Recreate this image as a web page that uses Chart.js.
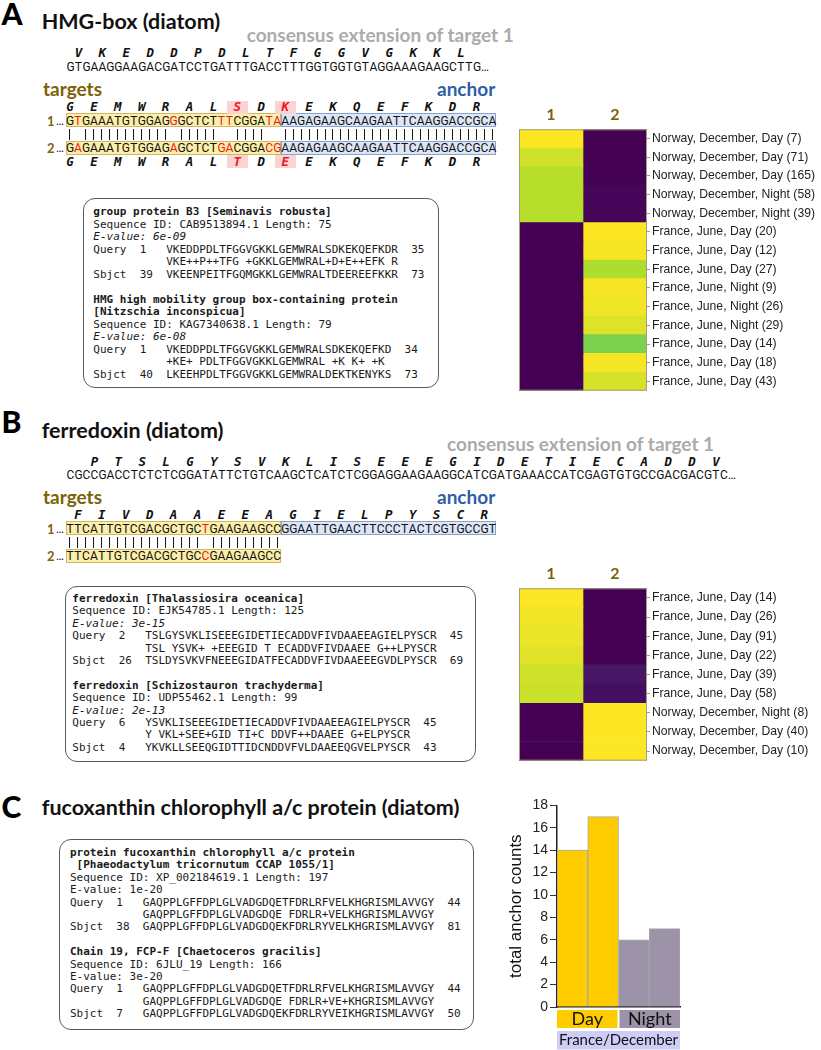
<!DOCTYPE html>
<html><head><meta charset="utf-8">
<script src="https://cdn.jsdelivr.net/npm/chart.js@4.4.1/dist/chart.umd.min.js"></script>
<style>
html,body{margin:0;padding:0;background:#fff;}
#page{position:relative;width:821px;height:1050px;overflow:hidden;background:#fff;}
.t{position:absolute;white-space:pre;line-height:1;}
.panel{font-family:Lato;font-weight:900;font-size:30px;color:#000;}
.title{font-family:Lato;font-weight:700;font-size:21.5px;color:#111;}
.cons{font-family:Lato;font-weight:700;font-size:19px;color:#ababab;}
.tgt{font-family:Lato;font-weight:700;font-size:19px;color:#7d6208;}
.anc{font-family:Lato;font-weight:700;font-size:19px;color:#2f5da6;}
.num{font-family:Lato;font-weight:700;font-size:13px;color:#7d6208;}
.row{position:absolute;height:14px;line-height:14px;white-space:nowrap;font-family:Roboto;font-size:12px;color:#111;}
.row span{display:inline-block;width:7.97px;text-align:center;}
.row.aa{font-family:'DejaVu Sans Mono';font-weight:bold;font-style:italic;font-size:12.5px;}
.bar{position:absolute;width:1px;height:11px;background:#1a1a1a;}
.box{position:absolute;border:1.5px solid #5a5a5a;border-radius:12px;box-sizing:border-box;}
.blast{position:absolute;font-family:'DejaVu Sans Mono';font-size:11px;white-space:pre;color:#1a1a1a;}
.hl{position:absolute;background:#fbd3d3;}
.tbox{position:absolute;background:#fcefa9;border:1px solid #cdb86a;box-sizing:border-box;}
.abox{position:absolute;background:#dce6f6;border:1px solid #86a3cf;box-sizing:border-box;}
canvas{position:absolute;}
</style>
</head>
<body>
<div id="page">
<canvas id="heatA" width="321" height="300" style="left:500px;top:100px"></canvas>
<canvas id="heatB" width="321" height="210" style="left:500px;top:560px"></canvas>
<canvas id="barC" width="185" height="255" style="left:500px;top:795px"></canvas>
</div>
<script>
// ---------------- data ----------------
const heatCols = ['1', '2'];
const heatRowsA = ['Norway, December, Day (7)','Norway, December, Day (71)','Norway, December, Day (165)','Norway, December, Night (58)','Norway, December, Night (39)','France, June, Day (20)','France, June, Day (12)','France, June, Day (27)','France, June, Night (9)','France, June, Night (26)','France, June, Night (29)','France, June, Day (14)','France, June, Day (18)','France, June, Day (43)'];
const heatA_target1 = [1.00, 0.93, 0.89, 0.89, 0.89, 0, 0, 0, 0, 0, 0, 0, 0, 0];
const heatA_target2 = [0, 0, 0, 0.015, 0.015, 1.00, 0.99, 0.88, 0.99, 0.98, 0.95, 0.80, 0.99, 0.94];
const heatRowsB = ['France, June, Day (14)','France, June, Day (26)','France, June, Day (91)','France, June, Day (22)','France, June, Day (39)','France, June, Day (58)','Norway, December, Night (8)','Norway, December, Day (40)','Norway, December, Day (10)'];
const heatB_target1 = [1.00, 0.98, 0.97, 0.955, 0.93, 0.92, 0, 0, 0];
const heatB_target2 = [0, 0, 0, 0, 0.06, 0.04, 1.00, 1.00, 1.00];
const barSamples = ['Day a', 'Day b', 'Night a', 'Night b'];
const barCounts = [14, 17, 6, 7];
const barPeriod = ['Day', 'Day', 'Night', 'Night'];
const barSite = 'France/December';
const barYMax = 18, barYStep = 2;

// sequences (text content)
const seqA_top = 'GTGAAGGAAGACGATCCTGATTTGACCTTTGGTGGTGTAGGAAAGAAGCTTG';
const aaA_top = 'VKEDDPDLTFGGVGKKL';
const seqA_t1 = 'GTGAAATGTGGAGGGCTCTTTCGGATA', seqA_t2 = 'GAGAAATGTGGAGAGCTCTGACGGACG';
const seqA_anchor = 'AAGAGAAGCAAGAATTCAAGGACCGCA';
const aaA_1 = 'GEMWRALSDKEKQEFKDR', aaA_2 = 'GEMWRALTDEEKQEFKDR';
const seqB_top = 'CGCCGACCTCTCTCGGATATTCTGTCAAGCTCATCTCGGAGGAAGAAGGCATCGATGAAACCATCGAGTGTGCCGACGACGTC';
const aaB_top = 'PTSLGYSVKLISEEEGIDETIECADDV';
const seqB_t1 = 'TTCATTGTCGACGCTGCTGAAGAAGCC', seqB_t2 = 'TTCATTGTCGACGCTGCCGAAGAAGCC';
const seqB_anchor = 'GGAATTGAACTTCCCTACTCGTGCCGT';
const aaB_1 = 'FIVDAAEEAGIELPYSCR';

// ---------------- text layout ----------------
const page = document.getElementById('page');
const W = 7.97;
function txt(cls, x, y, s) { const d = document.createElement('div'); d.className = 't ' + cls; d.style.left = x + 'px'; d.style.top = y + 'px'; d.textContent = s; page.appendChild(d); return d; }
function rect(cls, x, y, w, h) { const d = document.createElement('div'); d.className = cls; Object.assign(d.style, {left: x + 'px', top: y + 'px', width: w + 'px', height: h + 'px'}); page.appendChild(d); return d; }
function cells(x0, yc, str, extra, red) {
  const d = document.createElement('div'); d.className = 'row' + (extra ? ' ' + extra : '');
  d.style.left = x0 + 'px'; d.style.top = (yc - 7) + 'px';
  for (let i = 0; i < str.length; i++) {
    const s = document.createElement('span'); s.textContent = str[i] === ' ' ? '\u00a0' : str[i];
    if (red && red.includes(i)) s.style.color = '#f0141e';
    d.appendChild(s);
  }
  page.appendChild(d);
}
function aaRow(x0, yc, aa, off, redK) {
  const n = aa.length * 3 + off; const arr = new Array(n).fill(' ');
  const red = [];
  for (let k = 0; k < aa.length; k++) { arr[3 * k + off] = aa[k]; if (redK && redK.includes(k)) red.push(3 * k + off); }
  if (redK) redK.forEach(k => rect('hl', x0 + (3 * k + off - 1) * W + 1.5, yc - 6.5, 3 * W - 3, 13));
  cells(x0, yc, arr.join(''), 'aa', red);
}
function barsRow(x0, yc, a, b) {
  for (let i = 0; i < Math.max(a.length, b.length); i++)
    if (a[i] && a[i] === b[i]) rect('bar', Math.round(x0 + (i + 0.5) * W - 0.5), Math.round(yc - 5.5), 1, 11);
}
function redIdx(a, b) { const r = []; for (let i = 0; i < Math.min(a.length, b.length); i++) if (a[i] !== b[i]) r.push(i); return r; }

// ---- Panel A ----
txt('panel', 1.5, -1.6, 'A');
txt('title', 41.7, 11.4, 'HMG-box (diatom)');
txt('cons', 246.7, 24.9, 'consensus extension of target 1');
aaRow(66.5, 53.3, aaA_top, 1);
cells(66.5, 66.7, seqA_top + '\u2026');
txt('tgt', 43, 78.6, 'targets');
txt('anc', 437, 78.6, 'anchor');
const x0 = 66;
rect('tbox', x0, 113.3, 27 * W, 14); rect('abox', x0 + 27 * W, 113.3, 27 * W, 14);
rect('tbox', x0, 140.7, 27 * W, 14); rect('abox', x0 + 27 * W, 140.7, 27 * W, 14);
aaRow(x0, 107.3, aaA_1, 0, [7, 9]);
const rA = redIdx(seqA_t1, seqA_t2);
cells(x0, 120.5, seqA_t1 + seqA_anchor, '', rA);
barsRow(x0, 134.7, seqA_t1 + seqA_anchor, seqA_t2 + seqA_anchor);
cells(x0, 147.8, seqA_t2 + seqA_anchor, '', rA);
aaRow(x0, 161.5, aaA_2, 0, [7, 9]);
txt('num', 47, 114.5, '1'); txt('num', 47, 141.5, '2');
cells(56, 120.5, '\u2026'); cells(56, 147.8, '\u2026');

// ---- Panel B ----
const dy = 408;
txt('panel', 1.5, -1.6 + dy, 'B');
txt('title', 41.7, 12 + dy, 'ferredoxin (diatom)');
txt('cons', 447, 25.5 + dy, 'consensus extension of target 1');
aaRow(66.5, 53.8 + dy, aaB_top, 3);
cells(66.5, 67 + dy, seqB_top + '\u2026');
txt('tgt', 43, 79 + dy, 'targets');
txt('anc', 437, 79 + dy, 'anchor');
rect('tbox', x0, 113.3 + dy, 27 * W, 14); rect('abox', x0 + 27 * W, 113.3 + dy, 27 * W, 14);
rect('tbox', x0, 140.7 + dy, 27 * W, 14);
aaRow(x0, 107.3 + dy, aaB_1, 1);
const rB = redIdx(seqB_t1, seqB_t2);
cells(x0, 120.5 + dy, seqB_t1 + seqB_anchor, '', rB);
barsRow(x0, 134.7 + dy, seqB_t1, seqB_t2);
cells(x0, 147.8 + dy, seqB_t2, '', rB);
txt('num', 47, 114.5 + dy, '1'); txt('num', 47, 141.5 + dy, '2');
cells(56, 120.5 + dy, '\u2026'); cells(56, 147.8 + dy, '\u2026');

// ---- Panel C ----
txt('panel', 1.5, 791, 'C');
txt('title', 41.7, 797, 'fucoxanthin chlorophyll a/c protein (diatom)');

// ---- BLAST boxes ----
function blast(bx, by, bw, bh, tx, ty, lh, lines) {
  rect('box', bx, by, bw, bh);
  const p = document.createElement('div'); p.className = 'blast'; p.style.left = tx + 'px'; p.style.top = (ty - lh / 2) + 'px';
  lines.forEach(([s, st]) => { const d = document.createElement('div'); d.style.height = lh + 'px'; d.style.lineHeight = lh + 'px'; d.textContent = s || '\u00a0'; if (st === 'b') d.style.fontWeight = 'bold'; if (st === 'i') d.style.fontStyle = 'italic'; p.appendChild(d); });
  page.appendChild(p);
}
blast(83, 198, 356, 190, 93.3, 212.5, 12.5, [
  ['group protein B3 [Seminavis robusta]', 'b'],
  ['Sequence ID: CAB9513894.1 Length: 75'],
  ['E-value: 6e-09', 'i'],
  ['Query  1   VKEDDPDLTFGGVGKKLGEMWRALSDKEKQEFKDR  35'],
  ['           VKE++P++TFG +GKKLGEMWRAL+D+E++EFK R'],
  ['Sbjct  39  VKEENPEITFGQMGKKLGEMWRALTDEEREEFKKR  73'],
  [''],
  ['HMG high mobility group box-containing protein', 'b'],
  ['[Nitzschia inconspicua]', 'b'],
  ['Sequence ID: KAG7340638.1 Length: 79'],
  ['E-value: 6e-08', 'i'],
  ['Query  1   VKEDDPDLTFGGVGKKLGEMWRALSDKEKQEFKD  34'],
  ['           +KE+ PDLTFGGVGKKLGEMWRAL +K K+ +K'],
  ['Sbjct  40  LKEEHPDLTFGGVGKKLGEMWRALDEKTKENYKS  73']
]);
blast(65, 586, 411, 176, 72.3, 599.3, 12.4, [
  ['ferredoxin [Thalassiosira oceanica]', 'b'],
  ['Sequence ID: EJK54785.1 Length: 125'],
  ['E-value: 3e-15', 'i'],
  ['Query  2   TSLGYSVKLISEEEGIDETIECADDVFIVDAAEEAGIELPYSCR  45'],
  ['           TSL YSVK+ +EEEGID T ECADDVFIVDAAEE G++LPYSCR'],
  ['Sbjct  26  TSLDYSVKVFNEEEGIDATFECADDVFIVDAAEEEGVDLPYSCR  69'],
  [''],
  ['ferredoxin [Schizostauron trachyderma]', 'b'],
  ['Sequence ID: UDP55462.1 Length: 99'],
  ['E-value: 2e-13', 'i'],
  ['Query  6   YSVKLISEEEGIDETIECADDVFIVDAAEEAGIELPYSCR  45'],
  ['           Y VKL+SEE+GID TI+C DDVF++DAAEE G+ELPYSCR'],
  ['Sbjct  4   YKVKLLSEEQGIDTTIDCNDDVFVLDAAEEQGVELPYSCR  43']
]);
blast(59, 839, 415, 191, 70, 853.3, 12.4, [
  ['protein fucoxanthin chlorophyll a/c protein', 'b'],
  [' [Phaeodactylum tricornutum CCAP 1055/1]', 'b'],
  ['Sequence ID: XP_002184619.1 Length: 197'],
  ['E-value: 1e-20'],
  ['Query  1   GAQPPLGFFDPLGLVADGDQETFDRLRFVELKHGRISMLAVVGY  44'],
  ['           GAQPPLGFFDPLGLVADGDQE FDRLR+VELKHGRISMLAVVGY'],
  ['Sbjct  38  GAQPPLGFFDPLGLVADGDQEKFDRLRYVELKHGRISMLAVVGY  81'],
  [''],
  ['Chain 19, FCP-F [Chaetoceros gracilis]', 'b'],
  ['Sequence ID: 6JLU_19 Length: 166'],
  ['E-value: 3e-20'],
  ['Query  1   GAQPPLGFFDPLGLVADGDQETFDRLRFVELKHGRISMLAVVGY  44'],
  ['           GAQPPLGFFDPLGLVADGDQE FDRLR+VE+KHGRISMLAVVGY'],
  ['Sbjct  7   GAQPPLGFFDPLGLVADGDQEKFDRLRYVEIKHGRISMLAVVGY  50']
]);

// ---------------- charts ----------------
Chart.defaults.font.family = 'Liberation Sans';
const VIR = ['#440154','#482878','#3e4989','#31688e','#26828e','#1f9e89','#35b779','#6ece58','#b5de2b','#fde725'];
function hex2rgb(h) { return [1, 3, 5].map(i => parseInt(h.substr(i, 2), 16)); }
function viridis(t) {
  t = Math.max(0, Math.min(1, t)); const p = t * (VIR.length - 1); const i = Math.min(VIR.length - 2, Math.floor(p)); const f = p - i;
  const a = hex2rgb(VIR[i]), b = hex2rgb(VIR[i + 1]);
  return 'rgb(' + a.map((v, j) => Math.round(v + (b[j] - v) * f)).join(',') + ')';
}
const frame = { id: 'frame', afterDatasetsDraw(c) { const a = c.chartArea, x = c.ctx; x.save(); x.strokeStyle = '#a89c7a'; x.lineWidth = 1; x.strokeRect(a.left + 0.5, a.top + 0.5, a.right - a.left - 1, a.bottom - a.top - 1); x.restore(); } };

function heatmap(id, rows, cols, xh, padBottom) {
  new Chart(document.getElementById(id), {
    type: 'bar',
    data: { labels: rows, datasets: cols.map((vals, c) => ({ data: rows.map(() => [c, c + 1]), backgroundColor: vals.map(viridis), borderWidth: 0, grouped: false, barPercentage: 1, categoryPercentage: 1 })) },
    options: {
      indexAxis: 'y', responsive: false, animation: false, events: [], devicePixelRatio: 1,
      layout: { padding: { left: 19, top: 0, right: 0, bottom: padBottom } },
      plugins: { legend: { display: false }, tooltip: { enabled: false } },
      scales: {
        x: { type: 'linear', position: 'top', min: 0, max: heatCols.length,
             grid: { display: false, drawTicks: false }, border: { display: false },
             afterBuildTicks: s => { s.ticks = heatCols.map((_, i) => ({ value: i + 0.5 })); },
             ticks: { callback: (v, i) => heatCols[i], font: { family: 'Lato', weight: 'bold', size: 16 }, color: '#7d6208', padding: 5, autoSkip: false, maxRotation: 0 },
             afterFit: s => { s.height = xh; } },
        y: { position: 'right', grid: { display: true, drawOnChartArea: false, offset: false, tickLength: 3, color: '#999' }, border: { display: false },
             ticks: { font: { family: 'Liberation Sans', size: 12.2 }, color: '#222', padding: 2, autoSkip: false },
             afterFit: s => { s.width = 174; } }
      }
    },
    plugins: [frame]
  });
}
heatmap('heatA', heatRowsA, [heatA_target1, heatA_target2], 29.3, 5);
heatmap('heatB', heatRowsB, [heatB_target1, heatB_target2], 28.3, 8.3);

const periodColor = { Day: '#ffcc00', Night: '#9d93a8' };
const groupBoxes = { id: 'groupBoxes', afterDraw(c) {
  const ctx = c.ctx, xs = c.scales.x, a = c.chartArea; const cw = (a.right - a.left) / barSamples.length;
  ctx.save();
  let i = 0;
  while (i < barPeriod.length) {
    let j = i; while (j + 1 < barPeriod.length && barPeriod[j + 1] === barPeriod[i]) j++;
    const l = xs.getPixelForValue(i) - cw / 2 + (i > 0 ? 1 : 0), r = xs.getPixelForValue(j) + cw / 2 - (j < barPeriod.length - 1 ? 1 : 0);
    ctx.fillStyle = periodColor[barPeriod[i]]; ctx.fillRect(l, a.bottom + 3, r - l, 18);
    ctx.fillStyle = '#111'; ctx.font = '18px Lato'; ctx.textAlign = 'center'; ctx.textBaseline = 'middle';
    ctx.fillText(barPeriod[i], (l + r) / 2, a.bottom + 12.5);
    i = j + 1;
  }
  ctx.fillStyle = '#cdcdf6'; ctx.fillRect(a.left, a.bottom + 24, a.right - a.left, 18.5);
  ctx.fillStyle = '#111'; ctx.font = '15px Lato'; ctx.fillText(barSite, (a.left + a.right) / 2, a.bottom + 33.5);
  ctx.restore();
} };
new Chart(document.getElementById('barC'), {
  type: 'bar',
  data: { labels: barSamples, datasets: [{ data: barCounts, backgroundColor: barPeriod.map(p => periodColor[p]), borderColor: '#a8a8a8', borderWidth: 1, barPercentage: 1, categoryPercentage: 1 }] },
  options: {
    responsive: false, animation: false, events: [], devicePixelRatio: 1,
    layout: { padding: { left: 0, top: 9, right: 5, bottom: 0 } },
    plugins: { legend: { display: false }, tooltip: { enabled: false } },
    scales: {
      x: { grid: { display: false }, ticks: { display: false }, border: { display: true, color: '#222', width: 1.5 }, afterFit: s => { s.height = 43; } },
      y: { min: 0, max: barYMax, ticks: { stepSize: barYStep, font: { family: 'Liberation Sans', size: 14 }, color: '#222', padding: 2 },
           grid: { drawOnChartArea: false, tickLength: 7, color: '#333', lineWidth: 1 }, border: { display: true, color: '#222', width: 1.5 },
           title: { display: true, text: 'total anchor counts', font: { family: 'Liberation Sans', size: 17 }, color: '#111', padding: { top: 6, bottom: 0 } },
           afterFit: s => { s.width = 57; } }
    }
  },
  plugins: [groupBoxes]
});
</script>
</body></html>
